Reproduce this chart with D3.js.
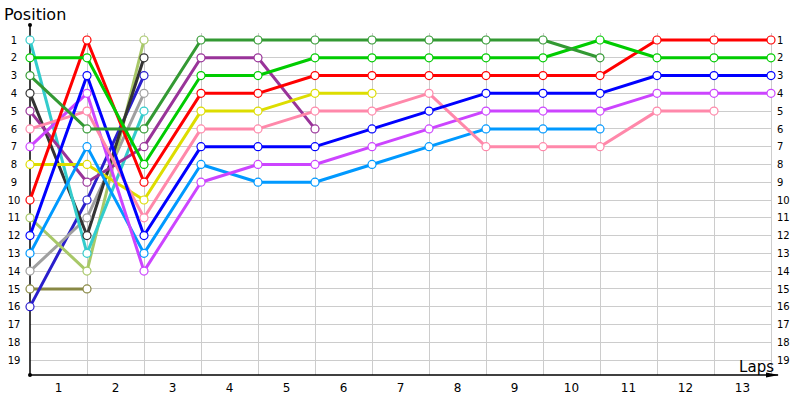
<!DOCTYPE html>
<html><head><meta charset="utf-8">
<script src="https://cdn.jsdelivr.net/npm/d3@7"></script>
<style>body{margin:0;background:#fff}svg{display:block}text{font-family:Tahoma,"DejaVu Sans",sans-serif}</style>
</head><body><svg id="c" width="800" height="400"></svg>
<script>
const laps = [1,2,3,4,5,6,7,8,9,10,11,12,13];
const positions = d3.range(1,20);
// positions per lap index (0 = start grid)
const cyan      = [1,13,5];
const green     = [2,2,8,3,3,2,2,2,2,2,1,2,2,2];
const darkGreen = [3,6,6,1,1,1,1,1,1,1,2];
const darkGray  = [4,12,2];
const purple    = [5,9,7,2,2,6];
const pink      = [6,5,11,6,6,5,5,4,7,7,7,5,5];
const magenta   = [7,4,14,9,8,8,7,6,5,5,5,4,4,4];
const yellow    = [8,8,10,5,5,4,4];
const red       = [10,1,9,4,4,3,3,3,3,3,3,1,1,1];
const lightGreen= [11,14,1];
const blue      = [12,3,12,7,7,7,6,5,4,4,4,3,3,3];
const lightBlue = [13,7,13,8,9,9,8,7,6,6,6];
const gray      = [14,11,4];
const olive     = [15,15];
const darkBlue  = [16,10,3];

const series = [
  {v: olive, c:"#888844"},
  {v: darkBlue, c:"#2a1ecc"},
  {v: gray, c:"#a0a0a0"},
  {v: lightGreen, c:"#a8c868"},
  {v: darkGray, c:"#333333"},
  {v: cyan, c:"#33cccc"},
  {v: purple, c:"#993399"},
  {v: yellow, c:"#dddd00"},
  {v: lightBlue, c:"#0099ff"},
  {v: magenta, c:"#cc44ff"},
  {v: pink, c:"#ff88aa"},
  {v: blue, c:"#0000ff"},
  {v: red, c:"#ff0000"},
  {v: green, c:"#00cc00"},
  {v: darkGreen, c:"#339933"}
];

const svg = d3.select("#c");
const x = d3.scaleLinear().domain([0,13]).range([30,771]);
const y = d3.scaleLinear().domain([1,19]).range([40,360]);
const axisY = 375, topY = 25;

// horizontal grid
svg.append("g").selectAll("line").data(positions).join("line")
  .attr("x1",30).attr("x2",771).attr("y1",d=>y(d)).attr("y2",d=>y(d))
  .attr("stroke","#cccccc").attr("stroke-width",1).attr("shape-rendering","crispEdges");
// vertical grid
svg.append("g").selectAll("line").data(laps).join("line")
  .attr("x1",d=>x(d)).attr("x2",d=>x(d)).attr("y1",33).attr("y2",axisY)
  .attr("stroke","#cccccc").attr("stroke-width",1).attr("shape-rendering","crispEdges");

// axes
svg.append("line").attr("x1",x(0)).attr("x2",x(0)).attr("y1",topY).attr("y2",axisY)
  .attr("stroke","#000").attr("stroke-width",1.5);
svg.append("line").attr("x1",x(0)).attr("x2",778).attr("y1",axisY).attr("y2",axisY)
  .attr("stroke","#000").attr("stroke-width",1.5);
svg.append("circle").attr("cx",x(0)).attr("cy",topY).attr("r",2).attr("fill","#000");
svg.append("circle").attr("cx",x(0)).attr("cy",axisY).attr("r",2).attr("fill","#000");
svg.append("path").attr("d",`M766,${axisY-2.5}L779,${axisY}L766,${axisY+2.5}Z`).attr("fill","#000");

// y labels left and right
const yAxisL = d3.axisLeft(y).tickValues(positions).tickSize(0).tickPadding(0);
svg.append("g").attr("transform","translate(14,0)").call(yAxisL)
  .call(g=>g.select(".domain").remove())
  .selectAll("text").attr("text-anchor","middle").attr("font-size",10).attr("fill","#000")
  .style("font-family","Tahoma,'DejaVu Sans',sans-serif");
const yAxisR = d3.axisRight(y).tickValues(positions).tickSize(0).tickPadding(0);
svg.append("g").attr("transform","translate(777,0)").call(yAxisR)
  .call(g=>g.select(".domain").remove())
  .selectAll("text").attr("font-size",10).attr("fill","#000")
  .style("font-family","Tahoma,'DejaVu Sans',sans-serif");

// x labels between gridlines
svg.append("g").selectAll("text").data(laps).join("text")
  .attr("x",d=>x(d-0.5)).attr("y",392).attr("text-anchor","middle")
  .attr("font-size",12).attr("fill","#000").text(d=>d);

svg.append("text").attr("x",4).attr("y",20).attr("font-size",16).attr("fill","#000").text("Position");
svg.append("text").attr("x",774).attr("y",372).attr("text-anchor","end").attr("font-size",15).attr("fill","#000").text("Laps");

const line = d3.line().x((d,i)=>x(i)).y(d=>y(d));
const g = svg.append("g");
series.forEach(s=>{
  g.append("path").datum(s.v).attr("d",line).attr("fill","none")
    .attr("stroke",s.c).attr("stroke-width",3).attr("stroke-linejoin","round");
});
series.forEach(s=>{
  g.append("g").selectAll("circle").data(s.v).join("circle")
    .attr("cx",(d,i)=>x(i)).attr("cy",d=>y(d)).attr("r",4)
    .attr("fill","#fff").attr("stroke",s.c).attr("stroke-width",1.2);
});
</script></body></html>
